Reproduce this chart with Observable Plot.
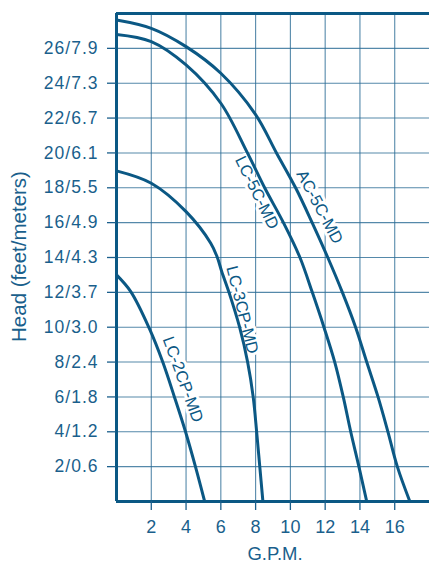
<!DOCTYPE html>
<html><head><meta charset="utf-8">
<script src="https://cdn.jsdelivr.net/npm/d3@7"></script>
<script src="https://cdn.jsdelivr.net/npm/@observablehq/plot@0.6"></script>
<style>
html,body{margin:0;padding:0;background:#fff;}
svg text{font-family:"Liberation Sans", Arial, Helvetica, sans-serif;}
g[aria-label="y-axis tick label"] text{letter-spacing:1px;}
</style></head><body><div id="chart"></div>
<script>
// Pump curves: flow (G.P.M.) vs head (feet)
const gpmAC5C  = [0, 2, 4, 6, 8, 9.2, 10.3, 11.25, 12.15, 12.99, 13.75, 14.39, 15.04, 15.61, 16.15, 16.87];
const headAC5C = [27.63, 27.15, 26.1, 24.57, 22.2, 20, 18, 16, 14, 12, 10, 8, 6, 4, 2, 0];
const gpmLC5C  = [0, 2, 4, 6, 7.53, 8.52, 9.6, 10.55, 11.26, 11.93, 12.55, 13.04, 13.47, 13.94, 14.39];
const headLC5C = [26.8, 26.39, 25.05, 22.85, 20, 18, 16, 14, 12, 10, 8, 6, 4, 2, 0];
const gpmLC3CP  = [0, 2, 4, 5.42, 5.8, 6.05, 6.47, 7.08, 7.54, 7.86, 8.06, 8.24, 8.42];
const headLC3CP = [18.97, 18.26, 16.63, 14.82, 14, 13.2, 12, 10, 8, 6, 4, 2, 0];
const gpmLC2CP  = [0, 0.82, 1.9, 2.66, 3.33, 3.97, 4.54, 5.07];
const headLC2CP = [13.0, 12.04, 9.9, 8, 6, 4, 2, 0];

const seriesNames = ["AC-5C-MD", "LC-5C-MD", "LC-3CP-MD", "LC-2CP-MD"];
const labelGpm   = [11.68, 8.07, 7.23, 3.82];
const labelHead  = [16.9, 17.72, 11.0, 7.0];
const labelAngle = [62, 64, 76, 70];

const xTicks = [2, 4, 6, 8, 10, 12, 14, 16];
const yTicks = [2, 4, 6, 8, 10, 12, 14, 16, 18, 20, 22, 24, 26];
const yTickLabels = ["2/0.6","4/1.2","6/1.8","8/2.4","10/3.0","12/3.7","14/4.3","16/4.9","18/5.5","20/6.1","22/6.7","24/7.3","26/7.9"];

const xTitle = "G.P.M.";
const yTitle = "Head (feet/meters)";

const curves = [];
[[gpmAC5C, headAC5C], [gpmLC5C, headLC5C], [gpmLC3CP, headLC3CP], [gpmLC2CP, headLC2CP]].forEach(([xs, ys], i) => {
  xs.forEach((x, j) => curves.push({series: seriesNames[i], x, y: ys[j]}));
});
const labels = seriesNames.map((s, i) => ({text: s, x: labelGpm[i], y: labelHead[i], angle: labelAngle[i]}));

const ink = "#0b5884";
const textColor = "#1a5f8c";
const gridColor = "#2a6b95";

const chart = Plot.plot({
  width: 429, height: 563,
  marginLeft: 116, marginRight: 0, marginTop: 13, marginBottom: 62,
  style: {color: textColor, background: "#fff"},
  x: {domain: [0, 18]},
  y: {domain: [0, 28]},
  marks: [
    Plot.ruleX(xTicks, {y1: 0, y2: 28, stroke: gridColor, strokeWidth: 1.1, strokeOpacity: 0.8}),
    Plot.ruleY(yTicks, {x1: 0, x2: 18, stroke: gridColor, strokeWidth: 1.1, strokeOpacity: 0.8}),
    Plot.text(labels, {x: "x", y: "y", text: "text", rotate: "angle", fontSize: 16.5, fill: ink, stroke: "white", strokeWidth: 6}),
    Plot.line(curves, {x: "x", y: "y", z: "series", curve: "catmull-rom", stroke: ink, strokeWidth: 3}),
    Plot.ruleX([0], {y1: 0, y2: 28, stroke: ink, strokeWidth: 3}),
    Plot.ruleY([0, 28], {x1: 0, x2: 18, stroke: ink, strokeWidth: 3}),
    Plot.axisX({ticks: xTicks, tickSize: 9, tickPadding: 10, fontSize: 18, label: null, color: textColor, strokeWidth: 1.3}),
    Plot.axisY({ticks: yTicks, tickFormat: d => yTickLabels[yTicks.indexOf(d)], tickSize: 9, tickPadding: 9, fontSize: 17.5, label: null, color: textColor, strokeWidth: 1.3}),
    Plot.text([xTitle], {frameAnchor: "bottom", text: d => d, lineAnchor: "top", dy: 45, dx: 2, fontSize: 18.5, fill: textColor}),
    Plot.text([yTitle], {frameAnchor: "left", text: d => d, textAnchor: "middle", rotate: -90, dx: -97.5, dy: -1, fontSize: 20.5, fill: textColor})
  ]
});
document.getElementById("chart").appendChild(chart);
</script></body></html>
